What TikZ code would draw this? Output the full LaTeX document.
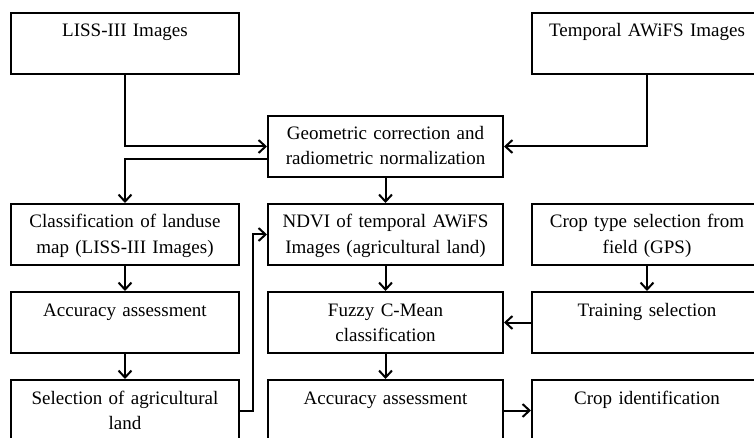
\documentclass[tikz,border=0pt]{standalone}
\usepackage{fontspec}
\setmainfont{Liberation Serif}
\usepackage{tikz}
\usetikzlibrary{arrows.meta, positioning, calc}

\begin{document}
\begin{tikzpicture}[x=1pt, y=-1pt,
    stage/.style={draw, line width=2pt, anchor=north west, align=center,
      inner sep=4pt, text height=20pt, text depth=33pt,
      font=\fontsize{19}{25}\selectfont},
    leftcol/.style={stage, text width=220pt},
    midcol/.style={stage, text width=227pt},
    rightcol/.style={stage, text width=222pt},
    flow/.style={line width=2pt, -{Straight Barb[length=7pt, width=13pt]}}]
  \useasboundingbox (0,0) rectangle (754,438);
  \clip (0,0) rectangle (754,438);

  % input images and preprocessing
  \node[leftcol] (liss) at (10,12) {LISS-III Images};
  \node[rightcol] (awifs) at (531,12) {Temporal AWiFS Images};
  \node[midcol] (geo) at (267,115) {Geometric correction and\\radiometric normalization};

  % left branch: landuse map
  \node[leftcol] (luc) at (10,203) {Classification of landuse\\map (LISS-III Images)};
  \node[leftcol] (acc1) at (10,291) {Accuracy assessment};
  \node[leftcol] (agri) at (10,379) {Selection of agricultural\\land};

  % middle branch: fuzzy classification
  \node[midcol] (ndvi) at (267,203) {NDVI of temporal AWiFS\\Images (agricultural land)};
  \node[midcol] (fcm) at (267,291) {Fuzzy C-Mean\\classification};
  \node[midcol] (acc2) at (267,379) {Accuracy assessment};

  % right branch: field data
  \node[rightcol] (gps) at (531,203) {Crop type selection from\\field (GPS)};
  \node[rightcol] (train) at (531,291) {Training selection};
  \node[rightcol] (cropid) at (531,379) {Crop identification};

  % connectors
  \draw[flow] (liss) |- (geo);
  \draw[flow] (awifs) |- (geo);
  \draw[flow] ([yshift=-13pt]geo.west) -| (luc);
  \draw[flow] (geo) -- (ndvi);
  \draw[flow] (luc) -- (acc1);
  \draw[flow] (acc1) -- (agri);
  \draw[flow] (agri.east) -- ++(13,0) |- (ndvi.west);
  \draw[flow] (ndvi) -- (fcm);
  \draw[flow] (fcm) -- (acc2);
  \draw[flow] (gps) -- (train);
  \draw[flow] (train) -- (fcm);
  \draw[flow] (acc2) -- (cropid);
\end{tikzpicture}
\end{document}
